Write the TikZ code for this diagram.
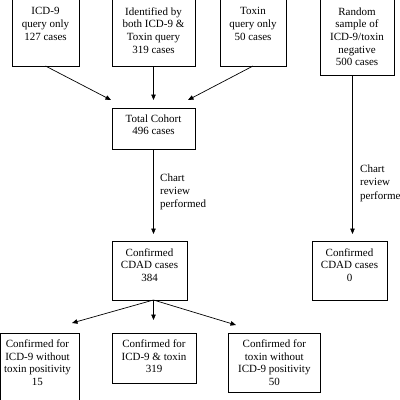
\documentclass[tikz,border=0pt]{standalone}
\usepackage{fontspec}
\setmainfont{Liberation Serif}
\usetikzlibrary{arrows.meta}
\begin{document}
\begin{tikzpicture}[x=1pt,y=-1pt,
  box/.style={draw=black, line width=0.8pt, inner sep=0pt, outer sep=0pt},
  txt/.style={font=\fontsize{11}{12.7}\selectfont, align=center, inner sep=0pt, anchor=north},
  side/.style={font=\fontsize{11}{13.3}\selectfont, align=left, inner sep=0pt, anchor=north west},
  arr/.style={line width=0.7pt, -{Triangle[length=5.5pt,width=4.5pt]}}]
\useasboundingbox (0,0) rectangle (400,400);
\fill[white] (0,0) rectangle (400,400);
% boxes
\node[box, minimum width=67pt, minimum height=76pt] (b1) at (45.5,28) {};
\node[box, minimum width=83pt, minimum height=76pt] (b2) at (153.5,28) {};
\node[box, minimum width=66pt, minimum height=76pt] (b3) at (253,28) {};
\node[box, minimum width=74pt, minimum height=85pt] (b4) at (357,32.5) {};
\node[box, minimum width=83pt, minimum height=41pt] (tc) at (153.5,128.5) {};
\node[box, minimum width=75pt, minimum height=59pt] (cc) at (149.5,270.5) {};
\node[box, minimum width=75pt, minimum height=59pt] (cr) at (349.5,270.5) {};
\node[box, minimum width=78.5pt, minimum height=77pt] (o1) at (39.75,371.5) {};
\node[box, minimum width=84pt, minimum height=50pt] (o2) at (154,358) {};
\node[box, minimum width=92.5pt, minimum height=59pt] (o3) at (274.25,362.5) {};
% texts
\node[txt] (b1t) at (45.5,7.3) {ICD-9\\query only\\127 cases};
\node[txt] (b2t) at (153.5,7.3) {Identified by\\both ICD-9 \&\\Toxin query\\319 cases};
\node[txt] (b3t) at (253,7.3) {Toxin\\query only\\50 cases};
\node[txt] (b4t) at (357,7.3) {Random\\sample of\\ICD-9/toxin\\negative\\500 cases};
\node[txt] (tct) at (153.5,114.3) {Total Cohort\\496 cases};
\node[txt] (cct) at (149.5,248.3) {Confirmed\\CDAD cases\\384};
\node[txt] (crt) at (349.5,248.3) {Confirmed\\CDAD cases\\0};
\node[txt] (o1t) at (37.5,339.6) {Confirmed for\\ICD-9 without\\toxin positivity\\15};
\node[txt] (o2t) at (154,339.6) {Confirmed for\\ICD-9 \& toxin\\319};
\node[txt] (o3t) at (274.3,339.6) {Confirmed for\\toxin without\\ICD-9 positivity\\50};
\node[side] (chl) at (160,173.3) {Chart\\review\\performed};
\node[side] (chr) at (360,164.6) {Chart\\review\\performed};
% connectors
\draw[arr] (b1.south) -- ([xshift=-1pt,yshift=8pt]tc.north west);
\draw[arr, shorten >=8pt] (b2.south) -- (tc.north);
\draw[arr] (b3.south) -- ([xshift=-7pt,yshift=8pt]tc.north east);
\draw[arr, shorten >=7pt] (tc.south) -- (tc.south |- cc.north);
\draw[arr, shorten >=7pt] ([xshift=-4.5pt]b4.south) -- ([xshift=-4.5pt]b4.south |- cr.north);
\coordinate (split) at (tc.south |- cc.south);
\draw[arr] (split) -- ([xshift=-7pt,yshift=10pt]o1.north east);
\draw[arr, shorten >=13pt] (split) -- (split |- o2.north);
\draw[arr] (split) -- ([xshift=8pt,yshift=8pt]o3.north west);
\end{tikzpicture}
\end{document}
